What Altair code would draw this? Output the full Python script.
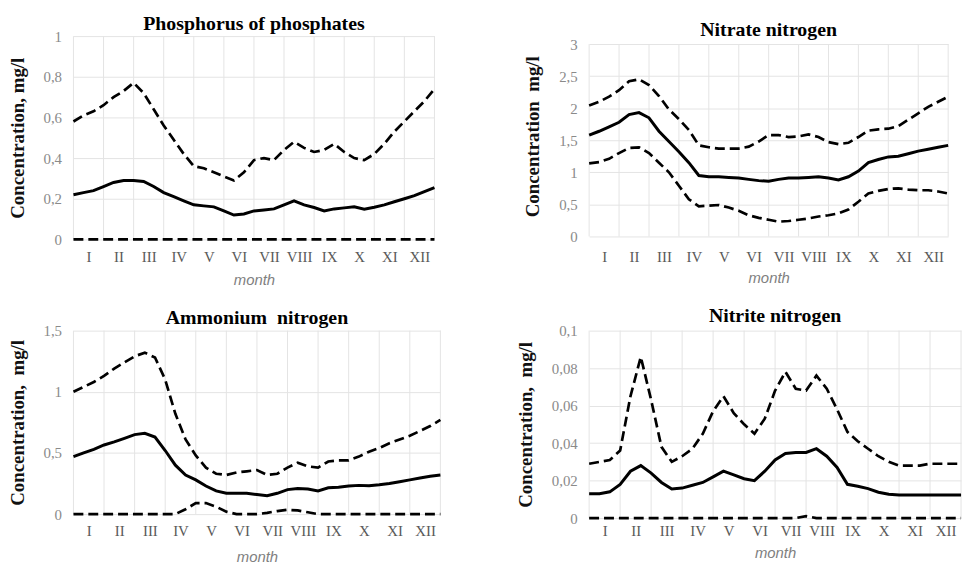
import altair as alt
import pandas as pd

months = ["I", "II", "III", "IV", "V", "VI", "VII", "VIII", "IX", "X", "XI", "XII"]
steps = list(range(37))  # thirds of a month (dekads) across the year

phos_max = [0.58, 0.61, 0.63, 0.66, 0.70, 0.73, 0.77, 0.72, 0.64, 0.56, 0.49, 0.42, 0.36, 0.35, 0.33, 0.31, 0.29, 0.33, 0.39,
            0.40, 0.39, 0.44, 0.48, 0.45, 0.43, 0.44, 0.47, 0.43, 0.40, 0.39, 0.42, 0.47, 0.53, 0.58, 0.63, 0.68, 0.74]
phos_mean = [0.22, 0.23, 0.24, 0.26, 0.28, 0.29, 0.29, 0.285, 0.26, 0.23, 0.21, 0.19, 0.17, 0.165, 0.16, 0.14, 0.12, 0.125, 0.14,
             0.145, 0.15, 0.17, 0.19, 0.17, 0.157, 0.14, 0.15, 0.155, 0.16, 0.148, 0.158, 0.17, 0.185, 0.20, 0.215, 0.235, 0.255]
phos_min = [0, 0, 0, 0, 0, 0, 0, 0, 0, 0, 0, 0, 0, 0, 0, 0, 0, 0, 0,
            0, 0, 0, 0, 0, 0, 0, 0, 0, 0, 0, 0, 0, 0, 0, 0, 0, 0]

nitrate_max = [2.04, 2.10, 2.18, 2.28, 2.42, 2.45, 2.36, 2.19, 1.98, 1.83, 1.66, 1.42, 1.39, 1.37, 1.37, 1.37, 1.40, 1.48, 1.58,
               1.58, 1.55, 1.56, 1.59, 1.55, 1.47, 1.44, 1.46, 1.55, 1.65, 1.67, 1.68, 1.72, 1.82, 1.92, 2.02, 2.10, 2.18]
nitrate_mean = [1.58, 1.64, 1.71, 1.78, 1.90, 1.93, 1.85, 1.64, 1.48, 1.32, 1.15, 0.95, 0.93, 0.93, 0.92, 0.91, 0.89, 0.87, 0.86,
                0.89, 0.91, 0.91, 0.92, 0.93, 0.91, 0.88, 0.93, 1.02, 1.15, 1.20, 1.24, 1.25, 1.29, 1.33, 1.36, 1.39, 1.42]
nitrate_min = [1.14, 1.16, 1.21, 1.30, 1.38, 1.39, 1.30, 1.15, 1.00, 0.79, 0.58, 0.47, 0.48, 0.49, 0.45, 0.40, 0.33, 0.29, 0.26,
               0.23, 0.24, 0.26, 0.28, 0.31, 0.33, 0.36, 0.42, 0.54, 0.67, 0.71, 0.74, 0.75, 0.73, 0.72, 0.72, 0.70, 0.67]

amm_max = [1.00, 1.04, 1.08, 1.13, 1.19, 1.24, 1.29, 1.32, 1.28, 1.10, 0.82, 0.61, 0.48, 0.38, 0.33, 0.32, 0.34, 0.35, 0.36,
           0.32, 0.33, 0.38, 0.42, 0.39, 0.38, 0.43, 0.44, 0.44, 0.47, 0.51, 0.54, 0.58, 0.61, 0.64, 0.68, 0.72, 0.77]
amm_mean = [0.47, 0.50, 0.53, 0.565, 0.59, 0.62, 0.65, 0.66, 0.63, 0.52, 0.40, 0.32, 0.28, 0.23, 0.19, 0.17, 0.17, 0.17, 0.16,
            0.15, 0.17, 0.20, 0.21, 0.205, 0.19, 0.215, 0.22, 0.23, 0.235, 0.232, 0.24, 0.25, 0.265, 0.28, 0.295, 0.31, 0.32]
amm_min = [0, 0, 0, 0, 0, 0, 0, 0, 0, 0, 0, 0.04, 0.09, 0.09, 0.06, 0.02, 0, 0, 0,
           0.01, 0.025, 0.035, 0.03, 0.015, 0, 0, 0, 0, 0, 0, 0, 0, 0, 0, 0, 0, 0]

nitrite_max = [0.029, 0.030, 0.031, 0.036, 0.065, 0.086, 0.063, 0.038, 0.030, 0.033, 0.037, 0.045, 0.057, 0.065, 0.056, 0.050, 0.045, 0.053, 0.068,
               0.078, 0.069, 0.068, 0.076, 0.069, 0.058, 0.046, 0.041, 0.037, 0.033, 0.030, 0.028, 0.028, 0.028, 0.029, 0.029, 0.029, 0.029]
nitrite_mean = [0.013, 0.013, 0.014, 0.018, 0.025, 0.028, 0.024, 0.019, 0.0155, 0.016, 0.0175, 0.019, 0.022, 0.025, 0.023, 0.021, 0.020, 0.025, 0.031,
                0.0345, 0.035, 0.035, 0.037, 0.033, 0.027, 0.018, 0.017, 0.0157, 0.0138, 0.0127, 0.0123, 0.0123, 0.0123, 0.0123, 0.0123, 0.0123, 0.0123]
nitrite_min = [0, 0, 0, 0, 0, 0, 0, 0, 0, 0, 0, 0, 0, 0, 0, 0, 0, 0, 0,
               0, 0, 0.001, 0, 0, 0, 0, 0, 0, 0, 0, 0, 0, 0, 0, 0, 0, 0]

month_bounds = [0, 3, 6, 9, 12, 15, 18, 21, 24, 27, 30, 33, 36]
month_centers = [1.5, 4.5, 7.5, 10.5, 13.5, 16.5, 19.5, 22.5, 25.5, 28.5, 31.5, 34.5]

SERIF = "Liberation Serif"
SANS = "Liberation Sans"
month_expr = "[" + ",".join("'" + m + "'" for m in months) + "][floor(datum.value / 3)]"
comma_expr = "replace(format(datum.value, '~g'), '.', ',')"


def panel(title, ytitle, mx, mean, mn, top_tick, dom_top, yticks, w, h, toff, xlabpad, monthpad):
    df = pd.DataFrame({
        "step": steps * 3,
        "value": mx + mean + mn,
        "series": ["max"] * 37 + ["mean"] * 37 + ["min"] * 37,
    })
    grid_df = pd.DataFrame({"b": month_bounds, "y0": [0] * len(month_bounds),
                            "y1": [top_tick] * len(month_bounds)})
    xscale = alt.Scale(domain=[0, 36], nice=False, zero=False)
    yscale = alt.Scale(domain=[0, dom_top], nice=False, zero=True)
    xaxis = alt.Axis(values=month_centers, labelExpr=month_expr, grid=False, domain=False, ticks=False,
                     labelFont=SERIF, labelFontSize=15, labelColor="#595959", labelPadding=xlabpad,
                     title="month", titleFont=SANS, titleFontSize=15, titleFontStyle="italic",
                     titleFontWeight="normal", titleColor="#808080", titlePadding=monthpad)
    yaxis = alt.Axis(values=yticks, labelExpr=comma_expr, grid=True, gridColor="#e4e4e4", gridWidth=1,
                     domain=False, ticks=False, labelFont=SERIF, labelFontSize=15, labelColor="#8a8a8a",
                     labelPadding=12, title=ytitle, titleFont=SERIF, titleFontSize=19, titleFontWeight="bold",
                     titleColor="#111111", titlePadding=16)
    vgrid = alt.Chart(grid_df).mark_rule(color="#e4e4e4", strokeWidth=1).encode(
        x=alt.X("b:Q", scale=xscale, axis=xaxis),
        y=alt.Y("y0:Q", scale=yscale, axis=yaxis),
        y2="y1:Q",
    )
    dashed = alt.Chart(df).transform_filter("datum.series != 'mean'").mark_line(
        color="black", strokeWidth=2.7, strokeDash=[10, 5]
    ).encode(
        x=alt.X("step:Q", scale=xscale, axis=xaxis),
        y=alt.Y("value:Q", scale=yscale, axis=yaxis),
        detail="series:N",
    )
    solid = alt.Chart(df).transform_filter("datum.series == 'mean'").mark_line(
        color="black", strokeWidth=3
    ).encode(
        x=alt.X("step:Q", scale=xscale, axis=xaxis),
        y=alt.Y("value:Q", scale=yscale, axis=yaxis),
    )
    return alt.layer(vgrid, dashed, solid).properties(
        width=w, height=h,
        title=alt.TitleParams(text=title, font=SERIF, fontSize=20, fontWeight="bold", color="black",
                              anchor="middle", offset=toff),
    )


NB = "\u00a0"
tl = panel("Phosphorus of phosphates", "Concentration, mg/l", phos_max, phos_mean, phos_min,
           1, 1, [0, 0.2, 0.4, 0.6, 0.8, 1], 364, 205, -5, 10, 8)
tr = panel("Nitrate nitrogen", "Concentration" + NB + " mg/l", nitrate_max, nitrate_mean, nitrate_min,
           3, 3.124, [0, 0.5, 1, 1.5, 2, 2.5, 3], 362, 202, -4, 13, 6)
bl = panel("Ammonium" + NB + " nitrogen", "Concentration," + NB + " mg/l", amm_max, amm_mean, amm_min,
           1.5, 1.5, [0, 0.5, 1, 1.5], 370, 185, -4, 10, 11)
br = panel("Nitrite nitrogen", "Concentration," + NB + " mg/l", nitrite_max, nitrite_mean, nitrite_min,
           0.1, 0.1, [0, 0.02, 0.04, 0.06, 0.08, 0.1], 375, 189, -2, 6, 7)

top = alt.hconcat(tl, tr, spacing=84).resolve_scale(x="independent", y="independent")
bottom = alt.hconcat(bl, br, spacing=70).resolve_scale(x="independent", y="independent")
chart = alt.vconcat(top, bottom, spacing=19).resolve_scale(x="independent", y="independent").properties(
    padding={"left": 0, "top": 4, "right": 0, "bottom": 0},
    background="white",
).configure_view(strokeWidth=0)

chart.save("out.html", embed_options={"renderer": "svg", "actions": False})
